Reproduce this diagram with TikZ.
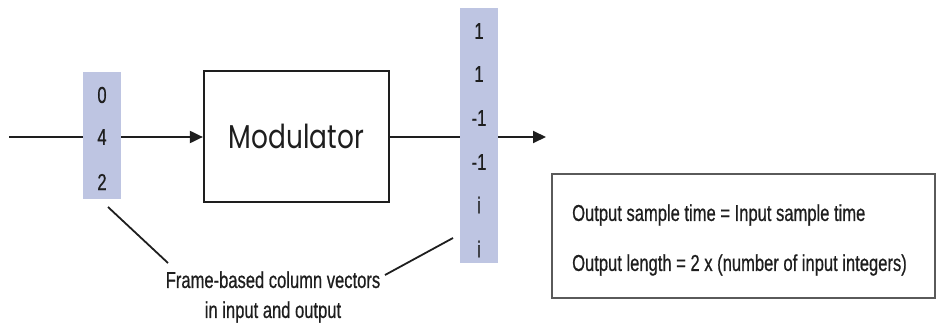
\documentclass[tikz,border=0pt]{standalone}
\usepackage{fontspec}
\usetikzlibrary{arrows.meta,calc}
\newfontfamily\condfont[FakeStretch=0.72,FakeBold=0.6]{Liberation Sans}
\newfontfamily\modfont[FakeStretch=0.8]{Poppins}
\definecolor{colblue}{RGB}{190,197,226}
\definecolor{ink}{RGB}{30,30,30}
\definecolor{boxgray}{RGB}{90,90,90}
\begin{document}
\begin{tikzpicture}[x=1pt,y=-1pt,
  lbl/.style={font=\condfont\fontsize{23}{30}\selectfont, inner sep=0pt, text=ink},
  vec/.style={fill=colblue, draw=none, inner sep=0pt},
  wire/.style={line width=2pt, draw=ink},
  arr/.style={wire, -{Triangle[length=13pt,width=12pt]}},
  leader/.style={line width=1.8pt, draw=ink},
  block/.style={draw=ink, line width=2.2pt, inner sep=0pt, font=\modfont\fontsize{33}{36}\selectfont, text=ink}]
\useasboundingbox (0,0) rectangle (940,323);
% columns
\node[vec, minimum width=38pt, minimum height=127pt] (incol) at (102,135.5) {};
\node[vec, minimum width=38pt, minimum height=255pt] (outcol) at (479,135.5) {};
% modulator
\node[block, minimum width=185pt, minimum height=131pt] (mod) at (296.5,136.5) {Modulator};
% input values
\node[lbl] (i0) at (102,95) {0};
\node[lbl] (i1) at (102,137) {4};
\node[lbl] (i2) at (102,182) {2};
% output values
\node[lbl] (o0) at (479,31) {1};
\node[lbl] (o1) at (479,74) {1};
\node[lbl] (o2) at (479,118) {-1};
\node[lbl] (o3) at (479,162) {-1};
\node[lbl] (o4) at (479,205) {i};
\node[lbl] (o5) at (479,249) {i};
% wires
\coordinate (src) at (9,137);
\coordinate (dst) at (546,137);
\draw[wire] (src) -- (src -| incol.west);
\draw[arr] (src -| incol.east) -- (src -| mod.west);
\draw[wire] (src -| mod.east) -- (src -| outcol.west);
\draw[arr] (src -| outcol.east) -- (dst);
% note
\node[lbl, align=center] (note) at (273,297) {Frame-based column vectors\\in input and output};
\coordinate (la) at (108,207);
\coordinate (lb) at (168,263);
\coordinate (ra) at (385,275);
\coordinate (rb) at (453,238);
\draw[leader] (la) -- (lb);
\draw[leader] (ra) -- (rb);
% info box
\node[draw=boxgray, line width=1.3pt, minimum width=383pt, minimum height=124pt, inner sep=0pt] (info) at (743.5,236) {};
\node[lbl, anchor=west] (t1) at (572,215) {Output sample time = Input sample time};
\node[lbl, anchor=west] (t2) at (572,265) {Output length = 2 x (number of input integers)};
\end{tikzpicture}
\end{document}
